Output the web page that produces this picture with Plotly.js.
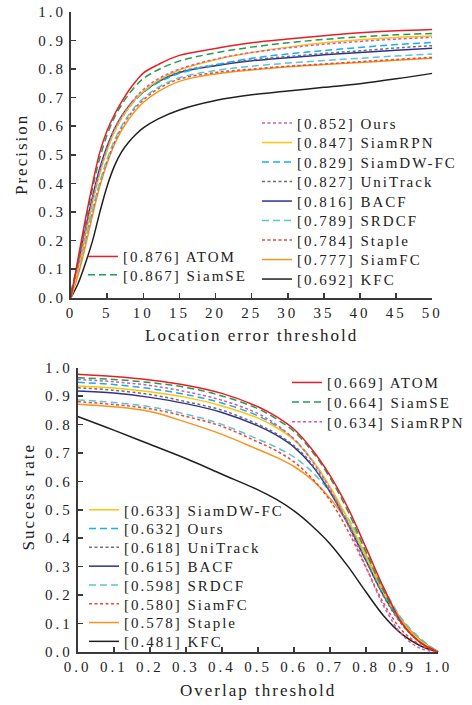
<!DOCTYPE html>
<html><head><meta charset="utf-8">
<script src="https://cdn.plot.ly/plotly-3.0.1.min.js"></script>
<style>
html,body{margin:0;padding:0;background:#fff;}
#chart{width:472px;height:705px;}
</style></head><body><div id="chart"></div><script>
// ---------- data: precision plot ----------
const precX = [0,1,2,3,4,5,6,7,8,9,10,12,15,20,25,30,35,40,45,50];
const precLabels = ['ATOM','SiamSE','Ours','SiamRPN','SiamDW-FC','UniTrack','BACF','SRDCF','Staple','SiamFC','KFC'];
const precScores = [0.876,0.867,0.852,0.847,0.829,0.827,0.816,0.789,0.784,0.777,0.692];
const precATOM     = [0,0.14,0.275,0.40,0.51,0.585,0.64,0.685,0.725,0.758,0.786,0.815,0.848,0.872,0.892,0.905,0.917,0.927,0.934,0.939];
const precSiamSE   = [0.02,0.13,0.26,0.385,0.49,0.57,0.63,0.675,0.712,0.742,0.767,0.797,0.828,0.857,0.877,0.892,0.904,0.913,0.920,0.925];
const precOurs     = [0.01,0.11,0.23,0.345,0.445,0.525,0.59,0.635,0.672,0.703,0.728,0.765,0.80,0.835,0.858,0.874,0.887,0.897,0.905,0.911];
const precSiamRPN  = [0,0.10,0.22,0.335,0.435,0.515,0.58,0.628,0.665,0.697,0.722,0.76,0.797,0.833,0.858,0.877,0.892,0.903,0.911,0.916];
const precSiamDW   = [0.01,0.11,0.225,0.34,0.44,0.52,0.582,0.628,0.665,0.695,0.718,0.752,0.785,0.815,0.838,0.853,0.865,0.876,0.886,0.893];
const precUniTrack = [0.01,0.11,0.225,0.34,0.44,0.52,0.582,0.628,0.665,0.695,0.718,0.755,0.79,0.815,0.832,0.844,0.855,0.864,0.874,0.882];
const precBACF     = [0,0.12,0.24,0.355,0.455,0.53,0.59,0.635,0.67,0.698,0.72,0.755,0.788,0.812,0.829,0.84,0.85,0.858,0.866,0.873];
const precSRDCF    = [0,0.09,0.20,0.31,0.405,0.485,0.55,0.60,0.64,0.672,0.697,0.735,0.77,0.795,0.81,0.821,0.83,0.838,0.846,0.853];
const precStaple   = [0,0.09,0.20,0.305,0.40,0.478,0.543,0.595,0.635,0.667,0.692,0.73,0.765,0.788,0.80,0.81,0.818,0.826,0.834,0.841];
const precSiamFC   = [0,0.08,0.18,0.29,0.39,0.47,0.535,0.585,0.625,0.657,0.683,0.72,0.757,0.783,0.797,0.808,0.816,0.823,0.831,0.838];
const precKFC      = [0,0.05,0.12,0.20,0.30,0.39,0.46,0.51,0.545,0.572,0.594,0.625,0.657,0.69,0.71,0.723,0.736,0.749,0.766,0.785];
const precSeries = [precATOM,precSiamSE,precOurs,precSiamRPN,precSiamDW,precUniTrack,precBACF,precSRDCF,precStaple,precSiamFC,precKFC];

// ---------- data: success plot ----------
const succX = [0,0.1,0.2,0.3,0.4,0.5,0.55,0.6,0.65,0.7,0.75,0.8,0.85,0.9,0.95,1.0];
const succLabels = ['ATOM','SiamSE','SiamRPN','SiamDW-FC','Ours','UniTrack','BACF','SRDCF','SiamFC','Staple','KFC'];
const succScores = [0.669,0.664,0.634,0.633,0.632,0.618,0.615,0.598,0.580,0.578,0.481];
const succATOM     = [0.976,0.968,0.956,0.938,0.909,0.862,0.828,0.783,0.712,0.62,0.505,0.365,0.222,0.10,0.033,0];
const succSiamSE   = [0.964,0.958,0.947,0.93,0.90,0.855,0.82,0.775,0.705,0.612,0.493,0.35,0.21,0.098,0.035,0];
const succSiamRPN  = [0.958,0.95,0.937,0.915,0.885,0.838,0.80,0.748,0.672,0.572,0.445,0.298,0.158,0.06,0.013,0];
const succSiamDW   = [0.935,0.928,0.915,0.895,0.865,0.822,0.79,0.745,0.675,0.58,0.465,0.335,0.205,0.103,0.04,0];
const succOurs     = [0.948,0.94,0.926,0.905,0.875,0.83,0.795,0.748,0.675,0.578,0.46,0.33,0.20,0.10,0.04,0];
const succUniTrack = [0.929,0.92,0.905,0.88,0.85,0.80,0.768,0.725,0.66,0.565,0.45,0.32,0.192,0.095,0.035,0];
const succBACF     = [0.917,0.91,0.895,0.873,0.842,0.795,0.763,0.72,0.655,0.562,0.448,0.32,0.195,0.10,0.04,0];
const succSRDCF    = [0.886,0.877,0.862,0.836,0.80,0.748,0.72,0.685,0.633,0.562,0.47,0.352,0.222,0.115,0.048,0];
const succSiamFC   = [0.88,0.87,0.855,0.828,0.793,0.738,0.708,0.668,0.61,0.532,0.425,0.295,0.168,0.075,0.025,0];
const succStaple   = [0.871,0.862,0.845,0.808,0.765,0.712,0.685,0.652,0.605,0.54,0.452,0.34,0.215,0.11,0.043,0];
const succKFC      = [0.828,0.78,0.73,0.68,0.625,0.57,0.537,0.496,0.443,0.38,0.30,0.21,0.125,0.062,0.022,0];
const succSeries = [succATOM,succSiamSE,succSiamRPN,succSiamDW,succOurs,succUniTrack,succBACF,succSRDCF,succSiamFC,succStaple,succKFC];

// ---------- styles (by legend position) ----------
const styles = [
  {color:'#ed1c24', dash:'solid'},
  {color:'#1e9e55', dash:'7px,4px'},
  {color:'#cc5ab8', dash:'3px,2.5px'},
  {color:'#ffc20e', dash:'solid'},
  {color:'#17aeef', dash:'7px,4px'},
  {color:'#6d6e71', dash:'3px,2.5px'},
  {color:'#2e3192', dash:'solid'},
  {color:'#5bc5d3', dash:'7px,4px'},
  {color:'#e8463f', dash:'3px,2.5px'},
  {color:'#f7941d', dash:'solid'},
  {color:'#231f20', dash:'solid'}
];
const W = 472, H = 705;
const px = v => v / W, py = v => 1 - v / H;
const FONT = 'Liberation Serif, Times New Roman, serif';
const legendGroups = [
  {plot:0, start:0, n:2, x:83,  y0:256.7, dy:18.3},
  {plot:0, start:2, n:9, x:257, y0:123.3, dy:19.5},
  {plot:1, start:0, n:3, x:287, y0:382.7, dy:19.6},
  {plot:1, start:3, n:8, x:84,  y0:510.0, dy:18.8}
];

const traces = [];
const layout = {
  width: W, height: H,
  margin: {l:0, r:0, t:0, b:0},
  paper_bgcolor: '#fff', plot_bgcolor: 'rgba(0,0,0,0)',
  font: {family: FONT, size: 15, color: '#222'},
  showlegend: true,
  annotations: []
};
let legendIdx = 0;
legendGroups.forEach(g => {
  for (let k = 0; k < g.n; k++) {
    const i = g.start + k;
    const lid = legendIdx === 0 ? 'legend' : 'legend' + (legendIdx + 1);
    legendIdx++;
    layout[lid] = {
      x: px(g.x), y: py(g.y0 + k * g.dy), xanchor: 'left', yanchor: 'middle',
      bgcolor: 'rgba(0,0,0,0)', borderwidth: 0, itemwidth: 30,
      font: {family: FONT, size: 15, color: '#222'}
    };
    const isTop = g.plot === 0;
    const lab = isTop ? precLabels[i] : succLabels[i];
    const sc = isTop ? precScores[i] : succScores[i];
    traces.push({
      type: 'scatter', mode: 'lines',
      x: isTop ? precX : succX,
      y: isTop ? precSeries[i] : succSeries[i],
      xaxis: isTop ? 'x' : 'x2', yaxis: isTop ? 'y' : 'y2',
      name: '[' + sc.toFixed(3) + '] ' + lab,
      legend: lid,
      line: {color: styles[i].color, dash: styles[i].dash, width: 1.5, shape: 'spline', smoothing: 1},
      hoverinfo: 'skip',
      _order: i
    });
  }
});
traces.sort((a, b) => b._order - a._order);
traces.forEach(t => delete t._order);

const axisBase = {
  showgrid: false, zeroline: false, showline: true, linecolor: '#3a3a3a', linewidth: 2,
  ticks: 'inside', ticklen: 5, tickwidth: 1.5, tickcolor: '#3a3a3a',
  tickfont: {family: FONT, size: 15, color: '#222'}, fixedrange: true
};
layout.xaxis = Object.assign({}, axisBase, {domain: [px(71), px(432.3)], range: [0, 50], dtick: 5, tick0: 0, anchor: 'y'});
layout.yaxis = Object.assign({}, axisBase, {domain: [py(297.5), py(12)], range: [0, 1], dtick: 0.1, tickformat: '.1f', anchor: 'x'});
layout.xaxis2 = Object.assign({}, axisBase, {domain: [px(77.7), px(438.3)], range: [0, 1], dtick: 0.1, tickformat: '.1f', anchor: 'y2'});
layout.yaxis2 = Object.assign({}, axisBase, {domain: [py(652), py(367.5)], range: [0, 1], dtick: 0.1, tickformat: '.1f', anchor: 'x2'});

const titleFont = {family: FONT, size: 17, color: '#222'};
layout.annotations.push(
  {text: 'Location error threshold', xref: 'paper', yref: 'paper', x: px(252), y: py(335), xanchor: 'center', yanchor: 'middle', showarrow: false, font: titleFont},
  {text: 'Precision', xref: 'paper', yref: 'paper', x: px(21.5), y: py(154.5), xanchor: 'center', yanchor: 'middle', textangle: -90, showarrow: false, font: titleFont},
  {text: 'Overlap threshold', xref: 'paper', yref: 'paper', x: px(258), y: py(690), xanchor: 'center', yanchor: 'middle', showarrow: false, font: titleFont},
  {text: 'Success rate', xref: 'paper', yref: 'paper', x: px(27.5), y: py(497), xanchor: 'center', yanchor: 'middle', textangle: -90, showarrow: false, font: titleFont}
);

function classify(t, root) {
  let el = t;
  while (el && el !== root) {
    const c = (el.getAttribute && el.getAttribute('class')) || '';
    if (/legend/.test(c)) return 'legend';
    if (/^(x|y)\d*tick$/.test(c)) return 'tick';
    if (/annotation/.test(c)) return 'ann';
    el = el.parentNode;
  }
  return null;
}
function spaceText() {
  const root = document.getElementById('chart');
  root.querySelectorAll('text').forEach(t => {
    const k = classify(t, root);
    if (k === 'legend') t.style.letterSpacing = '2px';
    else if (k === 'tick') t.style.letterSpacing = '3px';
    else if (k === 'ann') t.style.letterSpacing = '2px';
  });
  // legend clip boxes were sized before spacing; drop the clipping
  root.querySelectorAll('[clip-path]').forEach(el => {
    let p = el, inLegend = false;
    while (p && p !== root) {
      const c = (p.getAttribute && p.getAttribute('class')) || '';
      if (/legend|scrollbox/.test(c)) { inLegend = true; break; }
      p = p.parentNode;
    }
    if (inLegend) el.removeAttribute('clip-path');
  });
}
Plotly.newPlot('chart', traces, layout, {displayModeBar: false, staticPlot: true}).then(() => {
  spaceText();
  setTimeout(spaceText, 30);
  setTimeout(spaceText, 200);
});
</script></body></html>
